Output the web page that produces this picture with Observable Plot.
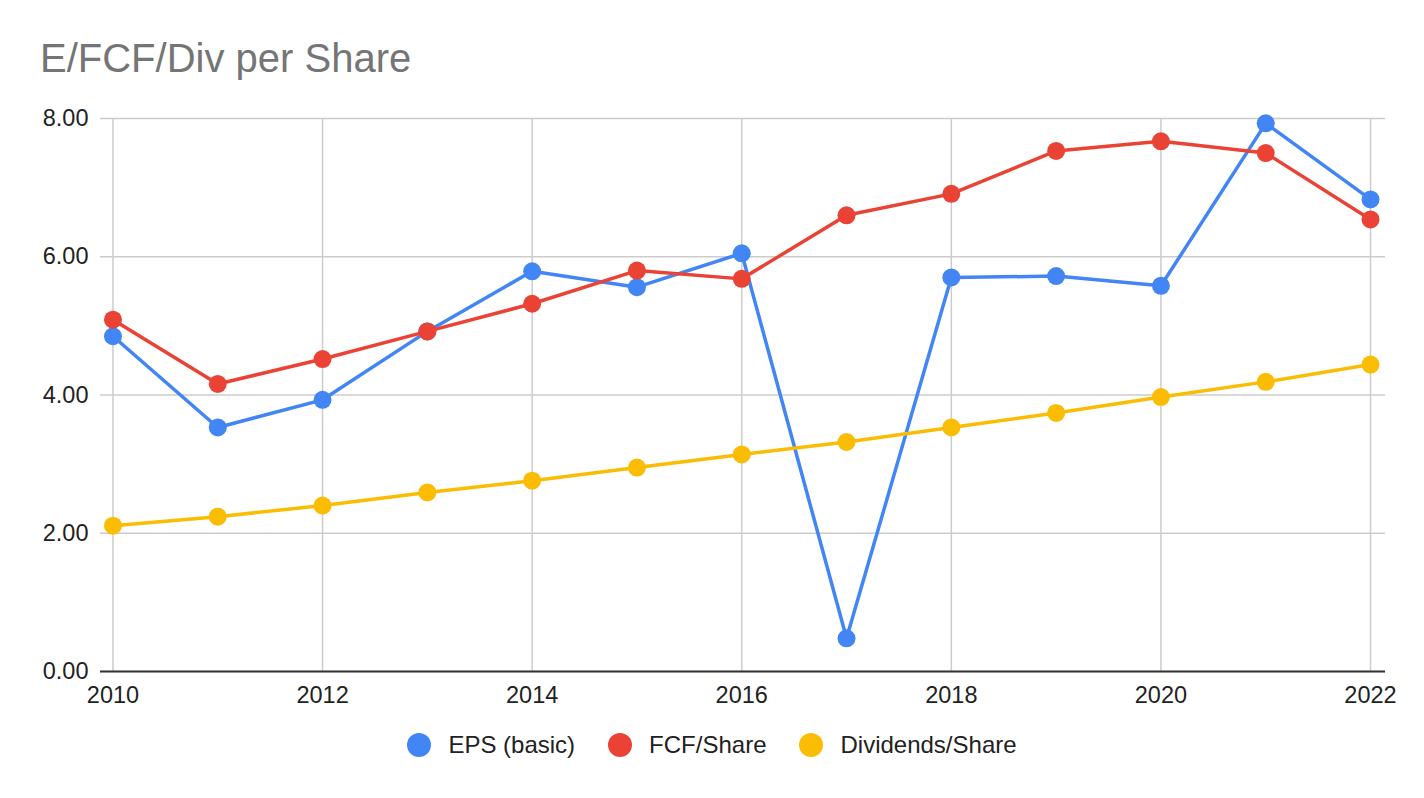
<!DOCTYPE html>
<html>
<head>
<meta charset="utf-8">
<script src="https://cdn.jsdelivr.net/npm/d3@7"></script>
<script src="https://cdn.jsdelivr.net/npm/@observablehq/plot@0.6"></script>
<style>
  html, body { margin: 0; padding: 0; background: #fff; }
  body { width: 1424px; height: 798px; overflow: hidden; font-family: "Liberation Sans", Arial, sans-serif; }
  #title { padding: 38px 0 0 40px; height: 52px; font-size: 40px; line-height: 40px; color: #757575; }
  #chart svg { display: block; }
  #legend { display: flex; justify-content: center; align-items: center; gap: 33px; padding-top: 22px; font-size: 24px; line-height: 24px; color: #222; }
  .item { display: flex; align-items: center; gap: 17px; }
  .sw { width: 24px; height: 24px; border-radius: 50%; }
</style>
</head>
<body>
<div id="title">E/FCF/Div per Share</div>
<div id="chart"></div>
<div id="legend"></div>
<script>
const years = [2010, 2011, 2012, 2013, 2014, 2015, 2016, 2017, 2018, 2019, 2020, 2021, 2022];
const eps = [4.85, 3.53, 3.93, 4.92, 5.79, 5.56, 6.05, 0.48, 5.70, 5.72, 5.58, 7.93, 6.83];
const fcf = [5.09, 4.16, 4.52, 4.92, 5.32, 5.80, 5.68, 6.60, 6.91, 7.53, 7.67, 7.50, 6.54];
const dps = [2.11, 2.24, 2.40, 2.59, 2.76, 2.95, 3.14, 3.32, 3.53, 3.74, 3.97, 4.19, 4.44];
const seriesNames = ["EPS (basic)", "FCF/Share", "Dividends/Share"];
const seriesColors = ["#4285F4", "#EA4335", "#FBBC04"];
const xTicks = [2010, 2012, 2014, 2016, 2018, 2020, 2022];
const yTicks = [0, 2, 4, 6, 8];

const seriesValues = [eps, fcf, dps];
const rows = [];
seriesValues.forEach((vals, si) => {
  vals.forEach((v, i) => rows.push({ series: seriesNames[si], year: years[i], value: v }));
});

const marks = [
  Plot.gridY(yTicks, { stroke: "#cccccc", strokeOpacity: 1, strokeWidth: 1.5 }),
  Plot.gridX(xTicks, { stroke: "#cccccc", strokeOpacity: 1, strokeWidth: 1.5 }),
  Plot.ruleY([0], { stroke: "#333333", strokeWidth: 2 }),
  Plot.axisY(yTicks, { tickSize: 0, tickPadding: 12, tickFormat: d => d.toFixed(2), fontSize: 23.5, fill: "#222", label: null }),
  Plot.axisX(xTicks, { tickSize: 0, tickPadding: 15, tickFormat: d => String(d), fontSize: 23.5, fill: "#222", label: null })
];
seriesNames.forEach((name, si) => {
  const data = rows.filter(r => r.series === name);
  marks.push(Plot.line(data, { x: "year", y: "value", stroke: seriesColors[si], strokeWidth: 3.5 }));
  marks.push(Plot.dot(data, { x: "year", y: "value", r: 9, fill: seriesColors[si], stroke: "none" }));
});

const chart = Plot.plot({
  width: 1424,
  height: 621,
  marginTop: 28,
  marginBottom: 40,
  marginLeft: 100,
  marginRight: 39,
  style: { fontFamily: "'Liberation Sans', Arial, sans-serif", background: "#fff", overflow: "visible" },
  x: { domain: [2009.881, 2022.143] },
  y: { domain: [0, 8] },
  marks
});
document.getElementById("chart").appendChild(chart);

const legend = document.getElementById("legend");
seriesNames.forEach((name, si) => {
  const item = document.createElement("div");
  item.className = "item";
  const sw = document.createElement("div");
  sw.className = "sw";
  sw.style.background = seriesColors[si];
  const label = document.createElement("span");
  label.textContent = name;
  item.appendChild(sw);
  item.appendChild(label);
  legend.appendChild(item);
});
</script>
</body>
</html>
